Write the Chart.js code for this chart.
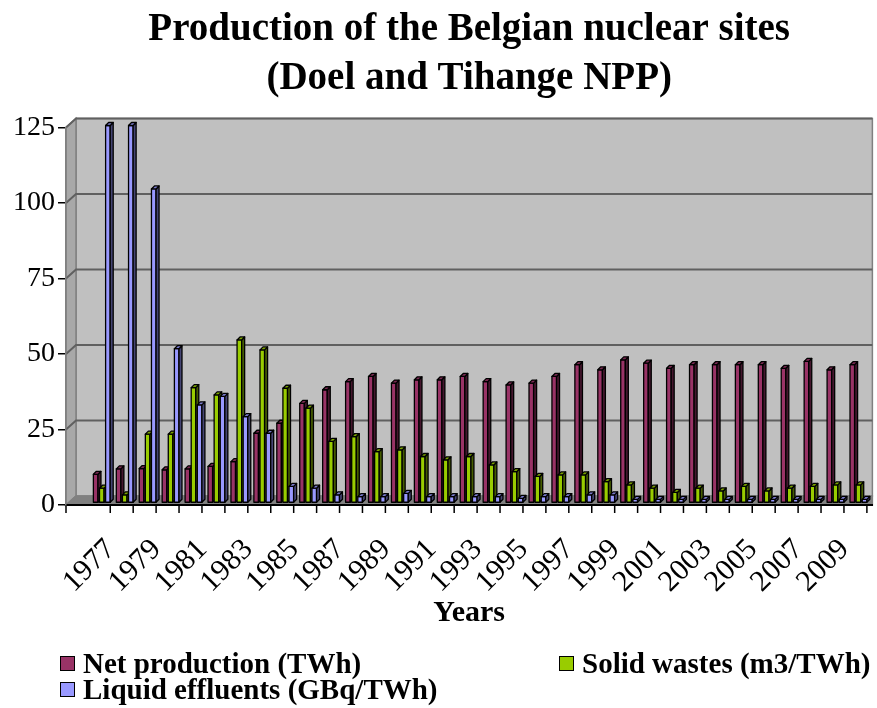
<!DOCTYPE html>
<html>
<head>
<meta charset="utf-8">
<script src="https://cdn.jsdelivr.net/npm/chart.js@4.4.1/dist/chart.umd.min.js"></script>
<style>
  html, body { margin: 0; padding: 0; background: #fff; }
  #wrap { position: relative; width: 877px; height: 708px; }
  #legend { position: absolute; left: 0; top: 0; width: 877px; height: 708px; pointer-events: none;
            font: bold 29px "Liberation Serif", "Times New Roman", serif; color: #000; }
  .item { position: absolute; display: flex; align-items: center; white-space: nowrap; height: 26px; line-height: 26px; }
  .box { width: 13px; height: 13px; border: 1.5px solid #000; margin-right: 8px; }
</style>
</head>
<body>
<div id="wrap">
  <canvas id="chart" width="877" height="708"></canvas>
  <div id="legend"></div>
</div>
<script>
const years = [1977, 1978, 1979, 1980, 1981, 1982, 1983, 1984, 1985, 1986, 1987, 1988,
  1989, 1990, 1991, 1992, 1993, 1994, 1995, 1996, 1997, 1998, 1999, 2000, 2001, 2002,
  2003, 2004, 2005, 2006, 2007, 2008, 2009, 2010];
const netProduction = [9.5, 11.3, 11.4, 11.0, 11.3, 12.1, 13.7, 23.1, 26.4, 33.0, 37.5, 40.2,
  41.9, 39.7, 40.8, 40.8, 41.9, 40.2, 39.1, 39.7, 41.9, 45.8, 44.1, 47.4, 46.3, 44.6,
  45.8, 45.8, 45.8, 45.8, 44.6, 46.9, 44.1, 45.8];
const solidWastes = [4.9, 2.7, 22.8, 22.8, 38.2, 35.8, 54.0, 50.7, 38.0, 31.4, 20.4, 22.0,
  17.0, 17.6, 15.4, 14.3, 15.4, 12.6, 10.4, 8.8, 9.3, 9.3, 7.1, 6.0, 4.9, 3.5,
  4.9, 4.0, 5.5, 4.0, 4.9, 5.5, 6.0, 6.0];
const liquidEffluents = [125, 125, 104, 51.1, 32.5, 35.3, 28.6, 23.1, 5.5, 4.9, 2.7, 2.1,
  2.1, 3.2, 2.1, 2.1, 2.1, 2.1, 1.5, 2.1, 2.1, 2.7, 2.7, 1.2, 1.2, 1.2,
  1.2, 1.2, 1.2, 1.2, 1.2, 1.2, 1.2, 1.2];
const labelYears = years.filter(y => y % 2 === 1);
const seriesNames = ["Net production (TWh)", "Solid wastes (m3/TWh)", "Liquid effluents (GBq/TWh)"];
const seriesColors = ["#993366", "#99CC00", "#9999FF"];

const serif = '"Liberation Serif", "Times New Roman", serif';

function shade(hex, f){
  const n = parseInt(hex.slice(1), 16);
  const r = Math.round(((n >> 16) & 255) * f), g = Math.round(((n >> 8) & 255) * f), b = Math.round((n & 255) * f);
  return `rgb(${r}, ${g}, ${b})`;
}

function poly(ctx, pts, fill){
  ctx.beginPath();
  ctx.moveTo(pts[0][0], pts[0][1]);
  for (let i = 1; i < pts.length; i++) ctx.lineTo(pts[i][0], pts[i][1]);
  ctx.closePath();
  ctx.fillStyle = fill;
  ctx.fill();
  ctx.stroke();
}

// fake 3d box: back wall, side wall, floor
const WALL = { dx: 10, dy: 9 };
const wallPlugin = {
  id: "wall3d",
  afterLayout(chart){
    // title is centred over the plot, not the whole canvas
    const t = chart.titleBlock;
    if (t) { t.left = chart.chartArea.left; t.right = chart.chartArea.right; t.width = t.right - t.left; }
  },
  beforeDraw(chart){
    const { ctx, chartArea: a, scales: { x, y } } = chart;
    ctx.save();
    ctx.lineWidth = 1.5;
    ctx.strokeStyle = "#808080";
    // back wall
    poly(ctx, [[a.left + WALL.dx, a.top - WALL.dy], [a.right, a.top - WALL.dy],
      [a.right, a.bottom - WALL.dy], [a.left + WALL.dx, a.bottom - WALL.dy]], "#C0C0C0");
    // left side wall
    poly(ctx, [[a.left, a.top], [a.left + WALL.dx, a.top - WALL.dy],
      [a.left + WALL.dx, a.bottom - WALL.dy], [a.left, a.bottom]], "#A8A8A8");
    // floor
    poly(ctx, [[a.left, a.bottom], [a.left + WALL.dx, a.bottom - WALL.dy],
      [a.right, a.bottom - WALL.dy], [a.right, a.bottom]], "#808080");
    // grid lines on the back wall
    ctx.strokeStyle = "#606060";
    ctx.lineWidth = 2;
    y.ticks.forEach(t => {
      if (t.value === 0) return;
      const py = y.getPixelForValue(t.value);
      ctx.beginPath();
      ctx.moveTo(a.left, py);
      ctx.lineTo(a.left + WALL.dx, py - WALL.dy);
      ctx.lineTo(a.right, py - WALL.dy);
      ctx.stroke();
    });
    // category tick marks under the axis
    ctx.strokeStyle = "#000";
    ctx.lineWidth = 1.5;
    const marks = [a.left, ...years.map(v => x.getPixelForValue(v + 0.5))];
    marks.forEach(px => {
      if (px > a.right + 1) return;
      ctx.beginPath();
      ctx.moveTo(px, a.bottom);
      ctx.lineTo(px, a.bottom + 8);
      ctx.stroke();
    });
    ctx.restore();
  }
};

const BAR = { dx: 3, dy: 3, sx: 3, sy: 2 };
const bars3dPlugin = {
  id: "bars3d",
  beforeDatasetsDraw(chart){
    const ctx = chart.ctx;
    ctx.save();
    ctx.lineWidth = 1.3;
    ctx.strokeStyle = "#000";
    ctx.lineJoin = "round";
    years.forEach((_, i) => {
      chart.data.datasets.forEach((ds, d) => {
        const el = chart.getDatasetMeta(d).data[i];
        if (!el) return;
        const { x, y, base, width } = el.getProps(["x", "y", "base", "width"], true);
        const l = x - width / 2 + BAR.sx, r = x + width / 2 + BAR.sx;
        const t = y - BAR.sy, b = base - BAR.sy;
        const c = ds.backgroundColor;
        poly(ctx, [[l, b], [l, t], [r, t], [r, b]], c);
        poly(ctx, [[r, b], [r + BAR.dx, b - BAR.dy], [r + BAR.dx, t - BAR.dy], [r, t]], shade(c, 0.45));
        poly(ctx, [[l, t], [l + BAR.dx, t - BAR.dy], [r + BAR.dx, t - BAR.dy], [r, t]], shade(c, 0.8));
      });
    });
    ctx.restore();
    return false;
  }
};

const seriesData = [netProduction, solidWastes, liquidEffluents];

const chart = new Chart(document.getElementById("chart"), {
  type: "bar",
  data: {
    datasets: seriesData.map((vals, d) => ({
      label: seriesNames[d],
      data: years.map((yr, i) => ({ x: yr, y: vals[i] })),
      backgroundColor: seriesColors[d],
      borderColor: "#000",
      borderWidth: 1,
      categoryPercentage: 0.8,
      barPercentage: 0.75,
    })),
  },
  options: {
    responsive: false,
    animation: false,
    devicePixelRatio: 1,
    layout: { padding: { left: 0, right: 1, top: 0, bottom: 77 } },
    plugins: {
      legend: { display: false },
      tooltip: { enabled: false },
      title: {
        display: true,
        text: ["Production of the Belgian nuclear sites", "(Doel and Tihange NPP)"],
        color: "#000",
        font: { family: serif, size: 39, weight: "bold", lineHeight: 1.25 },
        padding: { top: 6, bottom: 24 },
      },
    },
    scales: {
      x: {
        type: "linear",
        offset: false,
        min: 1975.57,
        max: 2010.74,
        afterBuildTicks: s => { s.ticks = labelYears.map(v => ({ value: v })); },
        afterFit: s => { s.height = 126; },
        grid: { display: false },
        border: { display: true, color: "#000", width: 2 },
        ticks: {
          autoSkip: false,
          minRotation: 45,
          maxRotation: 45,
          labelOffset: 12,
          padding: 19,
          color: "#000",
          font: { family: serif, size: 30 },
          callback: v => String(v),
        },
        title: {
          display: true,
          text: "Years",
          color: "#000",
          font: { family: serif, size: 30, weight: "bold" },
          padding: { top: 0, bottom: 0 },
        },
      },
      y: {
        min: 0,
        max: 125,
        afterFit: s => { s.width = 66; },
        grid: { drawOnChartArea: false, drawTicks: true, tickLength: 8, color: "#000", lineWidth: 1.5 },
        border: { display: true, color: "#808080", width: 1.5 },
        ticks: {
          stepSize: 25,
          padding: 3,
          color: "#000",
          font: { family: serif, size: 28 },
        },
      },
    },
  },
  plugins: [wallPlugin, bars3dPlugin],
});

// legend laid out in two columns like the original
const legendPos = [[60, 650], [559, 650], [60, 676]];
const legend = document.getElementById("legend");
seriesNames.forEach((name, i) => {
  const item = document.createElement("div");
  item.className = "item";
  item.style.left = legendPos[i][0] + "px";
  item.style.top = legendPos[i][1] + "px";
  const box = document.createElement("span");
  box.className = "box";
  box.style.background = seriesColors[i];
  const txt = document.createElement("span");
  txt.textContent = name;
  item.appendChild(box);
  item.appendChild(txt);
  legend.appendChild(item);
});
</script>
</body>
</html>
